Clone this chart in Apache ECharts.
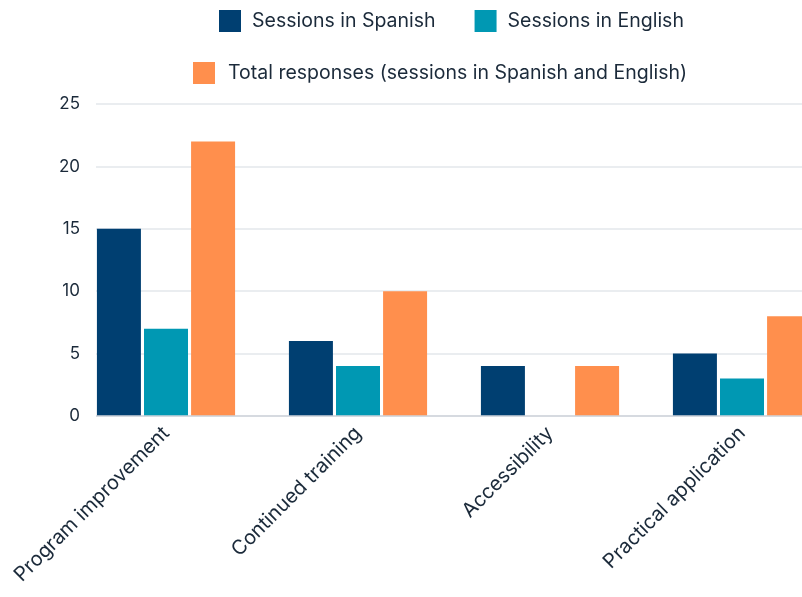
<!DOCTYPE html>
<html><head><meta charset="utf-8">
<script src="https://cdn.jsdelivr.net/npm/echarts@6/dist/echarts.min.js"></script>
<style>html,body{margin:0;padding:0;background:#fff}#c{width:802px;height:597px}</style>
</head><body><div id="c"></div>
<script>
const categories = ['Program improvement', 'Continued training', 'Accessibility', 'Practical application'];
const spanish = [15, 6, 4, 5];
const english = [7, 4, 0, 3];
const total = [22, 10, 4, 8];
const seriesNames = ['Sessions in Spanish', 'Sessions in English', 'Total responses (sessions in Spanish and English)'];
const yMin = 0, yMax = 25, yStep = 5;

const font = 'Inter, "Noto Sans", sans-serif';
const txt = '#1b2a3a';
const chart = echarts.init(document.getElementById('c'), null, {renderer: 'canvas'});
chart.setOption({
  animation: false,
  textStyle: {fontFamily: font},
  legend: [
    {data: [seriesNames[0], seriesNames[1]], left: 214, top: 5, itemWidth: 22, itemHeight: 22, itemGap: 39,
     icon: 'rect', textStyle: {fontFamily: font, fontSize: 19.5, color: txt, padding: [0,0,0,6]}},
    {data: [seriesNames[2]], left: 188, top: 57, itemWidth: 22, itemHeight: 22,
     icon: 'rect', textStyle: {fontFamily: font, fontSize: 19.5, color: txt, padding: [0,0,0,8]}}
  ],
  grid: [
    {left: 96, right: 0, top: 104, bottom: 181, outerBoundsMode: 'none', containLabel: false},
    {left: 70, width: 768, top: 104, bottom: 181, outerBoundsMode: 'none', containLabel: false}
  ],
  xAxis: [
    {gridIndex: 0, type: 'category', data: categories, show: false},
    {gridIndex: 1, type: 'category', data: categories,
     axisLine: {show: false}, axisTick: {show: false},
     axisLabel: {rotate: 45, interval: 0, fontSize: 20, color: txt, fontFamily: font, margin: 14}}
  ],
  yAxis: [
    {gridIndex: 0, type: 'value', min: yMin, max: yMax, interval: yStep,
     axisLine: {show: false}, axisTick: {show: false},
     axisLabel: {fontSize: 17, color: txt, fontFamily: font, margin: 16},
     splitLine: {lineStyle: {color: '#e3e7eb', width: 1.5}}},
    {gridIndex: 1, type: 'value', min: yMin, max: yMax, interval: yStep, show: false, splitLine: {show: false}}
  ],
  series: [
    {name: seriesNames[0], type: 'bar', xAxisIndex: 1, yAxisIndex: 1, data: spanish, barWidth: 44, barGap: '7%',
     itemStyle: {color: '#003f71'}},
    {name: seriesNames[1], type: 'bar', xAxisIndex: 1, yAxisIndex: 1, data: english, barWidth: 44, barGap: '7%',
     itemStyle: {color: '#0098b3'}},
    {name: seriesNames[2], type: 'bar', xAxisIndex: 1, yAxisIndex: 1, data: total, barWidth: 44, barGap: '7%',
     itemStyle: {color: '#ff8f4d'},
     markLine: {silent: true, symbol: 'none', label: {show: false}, lineStyle: {color: '#cfd5db', width: 1.5, type: 'solid'},
       data: [[{coord: [0, 0], x: 96}, {coord: [3, 0], x: 802}]]}}
  ]
});
</script></body></html>
